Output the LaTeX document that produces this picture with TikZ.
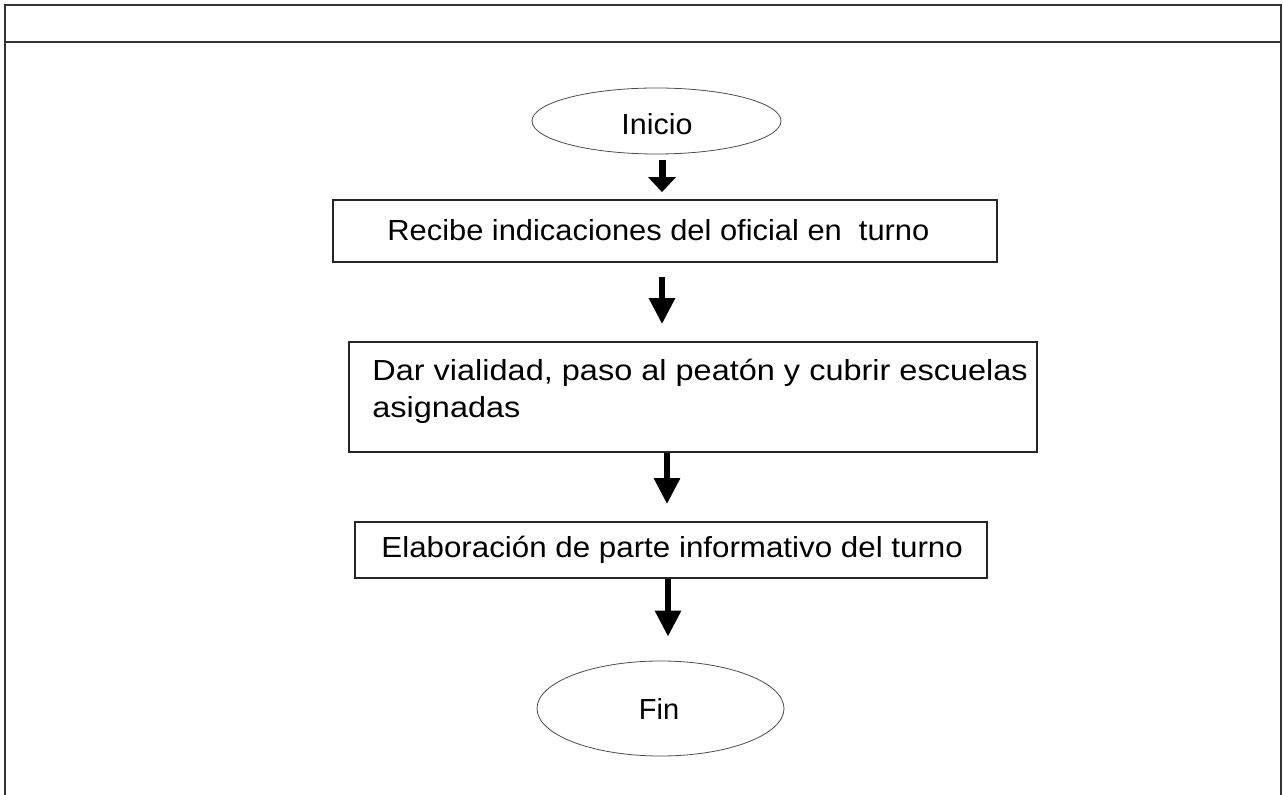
\documentclass[tikz,border=0pt]{standalone}
\usepackage{fontspec}
\setmainfont{Liberation Sans}
\newfontfamily\fA[FakeStretch=1.064]{Liberation Sans}
\newfontfamily\fB[FakeStretch=1.12]{Liberation Sans}
\newfontfamily\fC[FakeStretch=1.08]{Liberation Sans}
\newfontfamily\fD[FakeStretch=1.05]{Liberation Sans}
\usetikzlibrary{arrows.meta,shapes.geometric}
\begin{document}
\begin{tikzpicture}[x=0.5pt,y=-0.5pt,
  framel/.style={draw=black!80,line width=0.8pt},
  procbox/.style={draw=black!85,line width=0.9pt,rectangle,inner sep=0pt},
  term/.style={draw=black!70,line width=0.4pt,ellipse,inner sep=0pt},
  flarrow/.style={line width=3pt,-{Triangle[width=12.5pt,length=13pt]}},
  lbl/.style={font=\fontsize{14.5}{18.5}\selectfont}]
\useasboundingbox (0,0) rectangle (1283,795);
% frame
\draw[framel] (5,795) -- (5,5) -- (1281,5) -- (1281,795);
\draw[framel] (5,42) -- (1281,42);
% nodes
\node[term,minimum width=124.5pt,minimum height=33pt] (inicio) at (656.5,121) {};
\node[lbl,font=\fontsize{14.5}{18.5}\fD] at (657,124) {Inicio};
\node[procbox,minimum width=332pt,minimum height=31pt] (box1) at (665,231) {};
\node[lbl,font=\fontsize{14.5}{18.5}\fA,anchor=west,inner sep=0pt] at (387,230) {Recibe indicaciones del oficial en\ \ turno};
\node[procbox,minimum width=344pt,minimum height=55pt] (box2) at (693,397) {};
\node[lbl,font=\fontsize{14.5}{18.5}\fB,anchor=north west,align=left,inner sep=0pt] at (372,359) {Dar vialidad, paso al peatón y cubrir escuelas\\asignadas};
\node[procbox,minimum width=316pt,minimum height=28pt] (box3) at (671,550) {};
\node[lbl,font=\fontsize{14.5}{18.5}\fC,anchor=west,inner sep=0pt] at (381,550) {Elaboración de parte informativo del turno};
\node[term,minimum width=123.5pt,minimum height=47.5pt] (fin) at (660.5,708.5) {};
\node[lbl] at (659,709) {Fin};
% arrow columns
\coordinate (c1) at (662,0);
\coordinate (c2) at (662,0);
\coordinate (c3) at (667,0);
\coordinate (c4) at (668,0);
\draw[line width=3.5pt,-{Triangle[width=13.5pt,length=7.5pt]},shorten <=3pt,shorten >=3.5pt] (inicio.south -| c1) -- (box1.north -| c1);
\draw[flarrow,shorten <=7pt,shorten >=8.5pt] (box1.south -| c2) -- (box2.north -| c2);
\draw[flarrow,shorten <=0pt,shorten >=8.5pt] (box2.south -| c3) -- (box3.north -| c3);
\draw[flarrow,shorten <=0pt,shorten >=12pt] (box3.south -| c4) -- (fin.north -| c4);
\end{tikzpicture}
\end{document}
